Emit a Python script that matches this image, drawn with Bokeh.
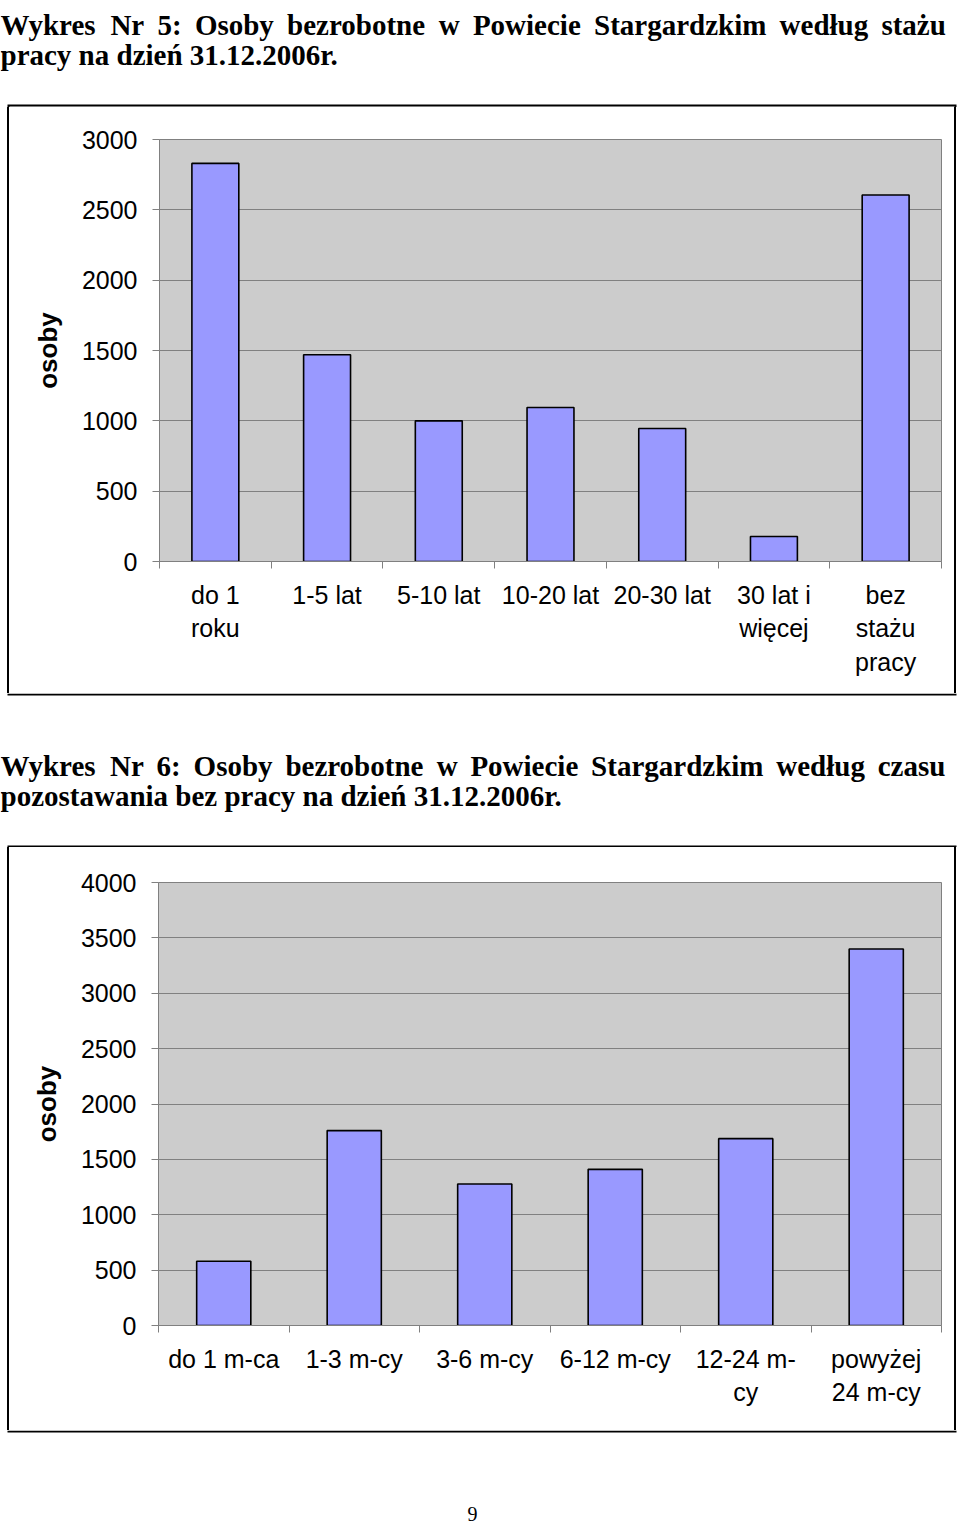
from bokeh.plotting import figure
from bokeh.models import Range1d, FixedTicker, Spacer
from bokeh.layouts import column, row
from bokeh.core.properties import value
from bokeh.embed import file_html
from bokeh.resources import INLINE

# ---------------- data ----------------
title_1_line1 = "Wykres Nr 5: Osoby bezrobotne w Powiecie Stargardzkim według stażu"
title_1_line2 = "pracy na dzień 31.12.2006r."
categories_1 = ["do 1\nroku", "1-5 lat", "5-10 lat", "10-20 lat", "20-30 lat",
                "30 lat i\nwięcej", "bez\nstażu\npracy"]
values_1 = [2830, 1470, 1000, 1095, 945, 178, 2605]
y_ticks_1 = [0, 500, 1000, 1500, 2000, 2500, 3000]

title_2_line1 = "Wykres Nr 6: Osoby bezrobotne w Powiecie Stargardzkim według czasu"
title_2_line2 = "pozostawania bez pracy na dzień 31.12.2006r."
categories_2 = ["do 1 m-ca", "1-3 m-cy", "3-6 m-cy", "6-12 m-cy", "12-24 m-\ncy",
                "powyżej\n24 m-cy"]
values_2 = [580, 1760, 1278, 1410, 1687, 3400]
y_ticks_2 = [0, 500, 1000, 1500, 2000, 2500, 3000, 3500, 4000]

y_label = "osoby"
page_number = "9"

# ---------------- layout (page pixels) ----------------
W = 960
SERIF = "Liberation Serif"
SANS = "Liberation Sans"
BOX_L, BOX_R = 8, 955


def piece(x0, y0, width, height):
    """A blank figure whose data coordinates are page pixels (y downwards)."""
    p = figure(width=width, height=height,
               x_range=Range1d(x0, x0 + width), y_range=Range1d(y0 + height, y0),
               output_backend="svg", toolbar_location=None,
               x_axis_location=None, y_axis_location=None, min_border=0)
    p.min_border_left = p.min_border_right = p.min_border_top = p.min_border_bottom = 0
    p.outline_line_color = None
    p.background_fill_color = "white"
    p.border_fill_color = "white"
    for g in p.grid:
        g.visible = False
    return p


def box_path(p, xs, ys):
    p.line(x=xs, y=ys, line_color="black", line_width=2, line_join="miter")


def title_text(p, line1, line2, word_x, base1, base2):
    words = line1.split(" ")
    p.text(x=word_x, y=[base1] * len(words), text=words,
           text_font=value(SERIF), text_font_size="29px", text_font_style="bold",
           text_color="black", text_baseline="alphabetic", text_align="left")
    p.text(x=[0], y=[base2], text=[line2],
           text_font=value(SERIF), text_font_size="29px", text_font_style="bold",
           text_color="black", text_baseline="alphabetic", text_align="left")


def make_chart(cats, vals, yticks, x0, y0, width, height, frame_l, frame_t, frame_r, frame_b, bar_w):
    n = len(cats)
    xs = list(range(1, n + 1))
    p = figure(width=width, height=height,
               x_range=Range1d(0.5, n + 0.5), y_range=Range1d(yticks[0], yticks[-1]),
               output_backend="svg", toolbar_location=None,
               min_border_left=frame_l - x0, min_border_right=x0 + width - frame_r,
               min_border_top=frame_t - y0, min_border_bottom=y0 + height - frame_b)
    p.background_fill_color = "#cccccc"
    p.border_fill_color = "white"
    p.outline_line_color = "#808080"
    p.outline_line_width = 1

    p.vbar(x=xs, top=vals, bottom=0, width=bar_w,
           fill_color="#9999ff", line_color="#000000", line_width=1.6)

    xa = p.xaxis[0]
    xa.ticker = FixedTicker(ticks=xs, minor_ticks=[i + 0.5 for i in range(n + 1)])
    xa.major_label_overrides = {x: c for x, c in zip(xs, cats)}
    xa.major_tick_line_color = None
    xa.major_tick_out = 7
    xa.major_tick_in = 0
    xa.minor_tick_out = 7
    xa.minor_tick_in = 0
    xa.minor_tick_line_color = "#808080"
    xa.axis_line_color = "#808080"
    xa.major_label_text_font = SANS
    xa.major_label_text_font_size = "25px"
    xa.major_label_text_color = "black"
    xa.major_label_standoff = 12

    ya = p.yaxis[0]
    ya.ticker = FixedTicker(ticks=yticks, minor_ticks=[])
    ya.major_tick_out = 7
    ya.major_tick_in = 0
    ya.major_tick_line_color = "#808080"
    ya.minor_tick_line_color = None
    ya.axis_line_color = "#808080"
    ya.major_label_text_font = SANS
    ya.major_label_text_font_size = "25px"
    ya.major_label_text_color = "black"
    ya.major_label_standoff = 15
    ya.axis_label = y_label
    ya.axis_label_text_font = SANS
    ya.axis_label_text_font_style = "bold"
    ya.axis_label_text_font_size = "26px"
    ya.axis_label_text_color = "black"
    ya.axis_label_standoff = 16

    p.xgrid.visible = False
    p.ygrid.ticker = FixedTicker(ticks=yticks, minor_ticks=[])
    p.ygrid.grid_line_color = "#808080"
    p.ygrid.grid_line_width = 1
    return p


def side(widths, height):
    """Vertical box edge beside a chart: white / black (2px) / white spacers."""
    items = []
    for w, black in widths:
        st = {"background-color": "black" if black else "white"}
        items.append(Spacer(width=w, height=height, styles=st))
    return items


def chart_row(chart, height):
    left = side([(7, False), (2, True), (3, False)], height)
    right = side([(2, False), (2, True), (4, False)], height)
    return row(*left, chart, *right, spacing=0)


# ---------------- title 1 + top of box 1 (y 0..107) ----------------
top = piece(0, 0, W, 107)
title_text(top, title_1_line1, title_1_line2,
           [0, 109.9, 157.0, 194.4, 286.6, 438.3, 472.4, 593.5, 779.1, 880.9], 24, 54)
box_path(top, [BOX_L, BOX_L, BOX_R, BOX_R], [107, 105, 105, 107])

# ---------------- chart 1 (y 107..693) ----------------
c1 = make_chart(categories_1, values_1, y_ticks_1, 12, 107, 940, 586,
                159, 139, 941, 561, 0.42)
row1 = chart_row(c1, 586)

# ---------------- bottom of box 1, title 2, top of box 2 (y 693..847) ----------------
mid = piece(0, 693, W, 154)
box_path(mid, [BOX_L, BOX_L, BOX_R, BOX_R], [693, 694, 694, 693])
title_text(mid, title_2_line1, title_2_line2,
           [0, 109.5, 156.1, 193.1, 284.9, 436.2, 469.9, 590.6, 775.8, 877.2], 765, 795)
box_path(mid, [BOX_L, BOX_L, BOX_R, BOX_R], [847, 846, 846, 847])

# ---------------- chart 2 (y 847..1430) ----------------
c2 = make_chart(categories_2, values_2, y_ticks_2, 12, 847, 940, 583,
                158, 882, 941, 1325, 0.415)
row2 = chart_row(c2, 583)

# ---------------- bottom of box 2 + page number (y 1430..1524) ----------------
foot = piece(0, 1430, W, 94)
box_path(foot, [BOX_L, BOX_L, BOX_R, BOX_R], [1430, 1431, 1431, 1430])
foot.text(x=[472], y=[1513], text=[page_number], text_font=value(SERIF),
          text_font_size="20px", text_color="black", text_baseline="middle",
          text_align="center")

layout = column(top, row1, mid, row2, foot, spacing=0)
open("out.html", "w").write(file_html(layout, INLINE))
